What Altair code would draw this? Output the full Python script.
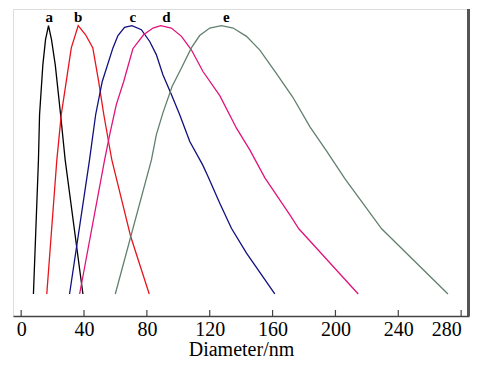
import altair as alt
import pandas as pd

# Series (diameter in nm, normalized intensity)
a_d = [7.8, 11.0, 11.7, 13.8, 15.5, 17.4, 19.3, 21.7, 25.1, 28.0, 39.3]
a_v = [0.0, 0.50, 0.668, 0.854, 0.948, 1.0, 0.948, 0.854, 0.668, 0.50, 0.0]

b_d = [16.3, 22.7, 25.5, 28.7, 31.9, 36.3, 41.0, 45.6, 49.3, 52.6, 56.3, 57.7, 69.7, 81.5]
b_v = [0.0, 0.50, 0.668, 0.792, 0.917, 1.0, 0.966, 0.917, 0.792, 0.668, 0.545, 0.50, 0.214, 0.0]

c_d = [30.8, 43.5, 47.4, 51.6, 58.4, 61.6, 65.8, 70.5, 76.5, 81.8, 86.0, 90.2, 95.6, 100.9,
       107.3, 115.5, 118.9, 126.4, 133.8, 143.4, 161.4]
c_v = [0.0, 0.50, 0.668, 0.792, 0.917, 0.963, 0.994, 1.0, 0.985, 0.941, 0.892, 0.817, 0.743, 0.668,
       0.568, 0.481, 0.438, 0.338, 0.245, 0.152, 0.0]

d_d = [37.2, 53.1, 56.3, 60.5, 65.2, 71.1, 77.9, 83.9, 88.8, 95.6, 102.0, 108.3, 115.7, 126.4,
       137.2, 145.5, 155.1, 171.0, 176.7, 214.5]
d_v = [0.0, 0.50, 0.593, 0.705, 0.791, 0.914, 0.966, 0.991, 1.0, 0.991, 0.960, 0.910, 0.829, 0.739,
       0.616, 0.537, 0.433, 0.295, 0.243, 0.0]

e_d = [59.9, 82.9, 86.0, 90.2, 96.1, 102.0, 108.3, 113.6, 120.0, 127.5, 134.9, 143.4, 151.9, 162.5,
       172.9, 183.7, 194.4, 206.1, 229.4, 271.6]
e_v = [0.0, 0.50, 0.593, 0.675, 0.774, 0.842, 0.917, 0.963, 0.991, 1.0, 0.991, 0.960, 0.909, 0.821,
       0.733, 0.624, 0.532, 0.429, 0.243, 0.0]

series_names = ["a", "b", "c", "d", "e"]
series_colors = ["#000000", "#e8141c", "#101080", "#e0147c", "#62806e"]
label_x = [17.9, 36.3, 71.1, 92.4, 130.6]
label_y = [1.032, 1.032, 1.032, 1.032, 1.032]

x_ticks = [0, 40, 80, 120, 160, 200, 240, 280]

rows = []
for name, ds, vs in zip(series_names, [a_d, b_d, c_d, d_d, e_d], [a_v, b_v, c_v, d_v, e_v]):
    for i, (d, v) in enumerate(zip(ds, vs)):
        rows.append({"series": name, "D": d, "v": v, "order": i})
df = pd.DataFrame(rows)
lab = pd.DataFrame({"series": series_names, "D": label_x, "v": label_y})
ticks = pd.DataFrame({"t": x_ticks})

W, H = 456, 307
xs = alt.Scale(domain=[-5.2, 285], nice=False, zero=False)
ys = alt.Scale(domain=[-0.082, 1.062], nice=False, zero=False)
cs = alt.Scale(domain=series_names, range=series_colors)

xaxis = alt.Axis(
    values=x_ticks, ticks=False, tickSize=0, labelPadding=3, labelFontSize=20,
    labelFont="Liberation Serif", labelColor="#000", title="Diameter/nm",
    titleFont="Liberation Serif", titleFontSize=20, titleFontWeight="normal",
    titleColor="#000", titleY=39, titleBaseline="alphabetic",
    domainColor="#444", domainWidth=1.6, grid=False, labelFlush=8, labelOverlap=False)

lines = alt.Chart(df).mark_line(strokeWidth=1.3, clip=True).encode(
    x=alt.X("D:Q", scale=xs, axis=xaxis, title="Diameter/nm"),
    y=alt.Y("v:Q", scale=ys, axis=None),
    color=alt.Color("series:N", scale=cs, legend=None),
    detail="series:N",
    order="order:Q",
)

labels = alt.Chart(lab).mark_text(font="Liberation Serif", fontSize=15, fontWeight="bold",
                                  baseline="middle", align="center", color="#000").encode(
    x=alt.X("D:Q", scale=xs, axis=xaxis, title="Diameter/nm"),
    y=alt.Y("v:Q", scale=ys, axis=None),
    text="series:N",
)

tickmarks = alt.Chart(ticks).mark_rule(color="#444", strokeWidth=1.2).encode(
    x=alt.X("t:Q", scale=xs, axis=xaxis, title="Diameter/nm"),
    y=alt.value(H - 6),
    y2=alt.value(H),
)

right_edge = alt.Chart(ticks).mark_rule(color="#555", strokeWidth=2.5).encode(
    x=alt.value(W - 0.5),
    y=alt.value(0),
    y2=alt.value(H),
)

chart = alt.layer(lines, labels, tickmarks, right_edge).properties(
    width=W, height=H,
    autosize=alt.AutoSizeParams(type="none"),
    padding={"left": 5, "top": 1, "right": 3, "bottom": 43},
).configure_view(stroke="#000", strokeWidth=1.2).configure(background="white")

chart.save("out.html", embed_options={"renderer": "svg", "actions": False})
